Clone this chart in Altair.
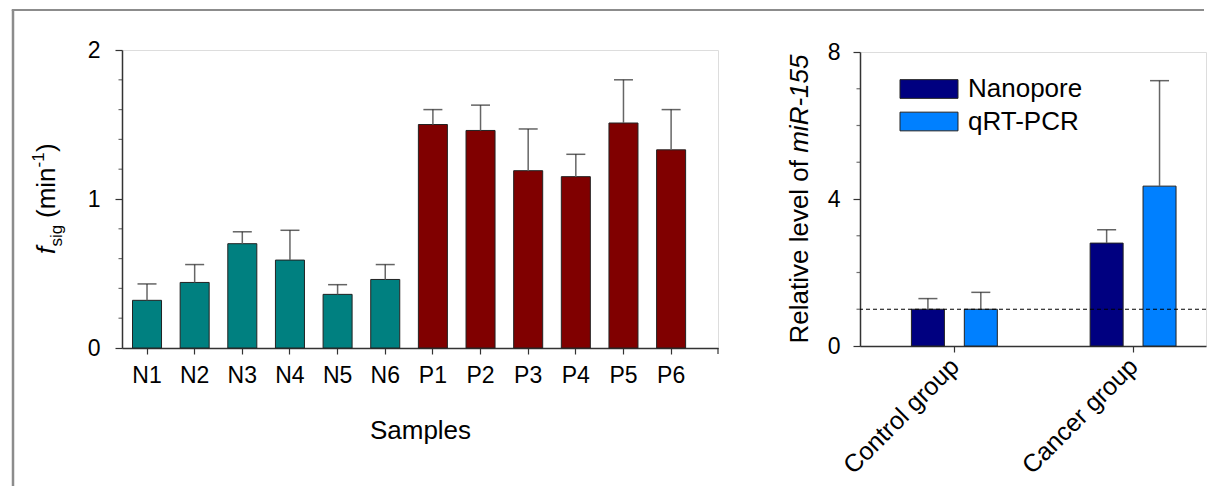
import json
import altair as alt
import pandas as pd

# ---------------- data ----------------
samples = ["N1", "N2", "N3", "N4", "N5", "N6", "P1", "P2", "P3", "P4", "P5", "P6"]
sample_group = ["N", "N", "N", "N", "N", "N", "P", "P", "P", "P", "P", "P"]
fsig = [0.32, 0.44, 0.70, 0.59, 0.36, 0.46, 1.50, 1.46, 1.19, 1.15, 1.51, 1.33]
fsig_err = [0.11, 0.12, 0.08, 0.20, 0.065, 0.10, 0.10, 0.17, 0.28, 0.15, 0.29, 0.27]

groups = ["Control group", "Cancer group"]
methods = ["Nanopore", "qRT-PCR"]
nanopore_level = [1.0, 2.80]
nanopore_err = [0.29, 0.36]
qrt_level = [1.0, 4.35]
qrt_err = [0.46, 2.87]
reference_level = 1.0

left_axis_values = [0, 0.5, 1, 1.5, 2]          # only whole numbers get a label
left_minor = [0.2, 0.4, 0.6, 0.8, 1.2, 1.4, 1.6, 1.8]
right_major = [0, 4, 8]
right_minor = [1, 2, 3, 5, 6, 7]

# ---------------- style ----------------
FONT = "Liberation Sans"
AX = "#333333"
TEAL, MAROON = "#008080", "#800000"
NAVY, SKY = "#000080", "#0080ff"
FRAME = "#8c8c8c"
GROUP_OFFSET = 0.148  # half-distance between paired bars, in group units

dfL = pd.DataFrame({
    "sample": samples,
    "grp": sample_group,
    "value": fsig,
    "upper": [v + e for v, e in zip(fsig, fsig_err)],
})

rows = []
for i, g in enumerate(groups):
    rows.append({"group": g, "method": methods[0], "level": nanopore_level[i],
                 "upper": nanopore_level[i] + nanopore_err[i]})
    rows.append({"group": g, "method": methods[1], "level": qrt_level[i],
                 "upper": qrt_level[i] + qrt_err[i]})
dfR = pd.DataFrame(rows)

one = pd.DataFrame({"k": [0]})

whole = "datum.value % 1 === 0"

# ---------------- left panel ----------------
xL = alt.X("sample:N", sort=samples,
           scale=alt.Scale(paddingInner=0.391, paddingOuter=0.45, align=0.245),
           axis=alt.Axis(title="Samples", labelAngle=0, tickSize=6, tickWidth=1.2,
                         tickColor=AX, domainColor=AX, domainWidth=1.5,
                         labelFontSize=23, labelPadding=10, labelColor="black",
                         titleFontSize=26, titleFontWeight="normal", titleColor="black",
                         titlePadding=30, labelFont=FONT, titleFont=FONT))
yL = alt.Y("value:Q", scale=alt.Scale(domain=[0, 2], nice=False),
           axis=alt.Axis(values=left_axis_values, title=None, grid=False,
                         labelOverlap=False, format=".1f",
                         labelExpr=f"{whole} ? replace(datum.label, '.0', '') : ''",
                         tickSize={"condition": {"test": whole, "value": 7}, "value": 0},
                         tickWidth=1.2, tickColor=AX,
                         domainColor=AX, domainWidth=1.5, labelFontSize=23,
                         labelPadding=15, labelColor="black", labelFont=FONT))

bars_L = alt.Chart(dfL).mark_bar(stroke="#222222", strokeWidth=1).encode(
    x=xL, y=yL,
    color=alt.Color("grp:N", scale=alt.Scale(domain=["N", "P"], range=[TEAL, MAROON]),
                    legend=None),
)
stems_L = alt.Chart(dfL).mark_rule(color="#666666", strokeWidth=1.5).encode(
    x=alt.X("sample:N", sort=samples), y="value:Q", y2="upper:Q")
caps_L = alt.Chart(dfL).mark_tick(orient="horizontal", size=19, thickness=1.5,
                                  color="#222222").encode(
    x=alt.X("sample:N", sort=samples), y="upper:Q")
minor_L = alt.Chart(pd.DataFrame({"v": left_minor})).mark_tick(
    orient="horizontal", size=3.5, thickness=1.2, color=AX).encode(
    x=alt.value(-1.75), y=alt.Y("v:Q"))
# closing tick at the right end of the sample axis
end_tick_L = alt.Chart(one).mark_rule(color=AX, strokeWidth=1.2).encode(
    x=alt.value(596), y=alt.value(298), y2=alt.value(304))


def piece(text, x, y, size, italic=False):
    return alt.Chart(one).mark_text(
        text=text, angle=270, align="left", baseline="alphabetic", font=FONT,
        fontSize=size, fontStyle="italic" if italic else "normal", color="black",
    ).encode(x=alt.value(x), y=alt.value(y))


title_L = [
    piece("f", -67, 204, 26, italic=True),
    piece("sig", -60, 196.5, 17),
    piece("(min", -67, 168, 26),
    piece("-1", -78, 117.5, 17),
    piece(")", -67, 102, 26),
]

frame_v = alt.Chart(one).mark_rule(color=FRAME, strokeWidth=2.5).encode(
    x=alt.value(-109), y=alt.value(-40), y2=alt.value(436))
frame_h = alt.Chart(one).mark_rule(color=FRAME, strokeWidth=2).encode(
    x=alt.value(-110.25), x2=alt.value(1082), y=alt.value(-40))

left = alt.layer(bars_L, stems_L, caps_L, minor_L, end_tick_L, *title_L,
                 frame_v, frame_h).properties(width=596, height=298)

# ---------------- right panel ----------------
pos_expr = (f"indexof({json.dumps(groups)}, datum.group) + 1 + "
            f"(datum.method == '{methods[0]}' ? -{GROUP_OFFSET} : {GROUP_OFFSET})")

xR = alt.X("xpos:Q", scale=alt.Scale(domain=[0.5, 2.38], nice=False, zero=False),
           axis=alt.Axis(values=[1, 2], title=None, grid=False,
                         labelExpr=f"{json.dumps(groups)}[datum.value - 1]",
                         labelAngle=-45, labelAlign="right", labelBaseline="middle",
                         tickSize=6, tickWidth=1.2, tickColor=AX, domainColor=AX,
                         domainWidth=1.5, labelFontSize=25, labelPadding=10,
                         labelColor="black", labelFont=FONT, labelOverlap=False))
yR = alt.Y("level:Q", scale=alt.Scale(domain=[0, 8], nice=False),
           axis=alt.Axis(values=right_major, title=None, grid=False, labelOverlap=False,
                         format="d", tickSize=7, tickWidth=1.2, tickColor=AX,
                         domainColor=AX, domainWidth=1.5, labelFontSize=23,
                         labelPadding=13, labelColor="black", labelFont=FONT))

baseR = alt.Chart(dfR).transform_calculate(xpos=pos_expr)

bars_R = baseR.mark_bar(size=33, stroke="#222222", strokeWidth=1).encode(
    x=xR, y=yR,
    color=alt.Color("method:N", scale=alt.Scale(domain=methods, range=[NAVY, SKY]),
                    legend=alt.Legend(title=None, orient="none", legendX=56, legendY=24,
                                      padding=0, symbolType="M-3.1,-1H3.1V1H-3.1Z",
                                      symbolSize=350, symbolStrokeColor="#222222",
                                      symbolStrokeWidth=1, symbolOpacity=1,
                                      labelFontSize=26, labelFont=FONT,
                                      labelColor="black", labelOffset=26,
                                      rowPadding=6.5)),
)
stems_R = baseR.mark_rule(color="#666666", strokeWidth=1.5).encode(
    x="xpos:Q", y="level:Q", y2="upper:Q")
caps_R = baseR.mark_tick(orient="horizontal", size=19, thickness=1.5,
                         color="#222222").encode(x="xpos:Q", y="upper:Q")
minor_R = alt.Chart(pd.DataFrame({"v": right_minor})).mark_tick(
    orient="horizontal", size=3.5, thickness=1.2, color=AX).encode(
    x=alt.value(-1.75), y=alt.Y("v:Q"))
ref_R = alt.Chart(one).mark_rule(strokeDash=[4, 3], color="black", strokeWidth=1).encode(
    y=alt.datum(reference_level))

title_R = [
    piece("Relative level of ", -52, 291.5, 26),
    piece("miR-155", -52, 100.8, 26, italic=True),
]

right = alt.layer(bars_R, stems_R, caps_R, minor_R, ref_R, *title_R).properties(
    width=346, height=294)

chart = alt.hconcat(left, right, spacing=142, bounds="flush", center=True).resolve_scale(
    color="independent"
).properties(
    padding={"left": 2, "top": 0, "right": 0, "bottom": 0}
).configure_view(stroke=None).configure(font=FONT)

chart.save("out.html", embed_options={"renderer": "svg", "actions": False})
